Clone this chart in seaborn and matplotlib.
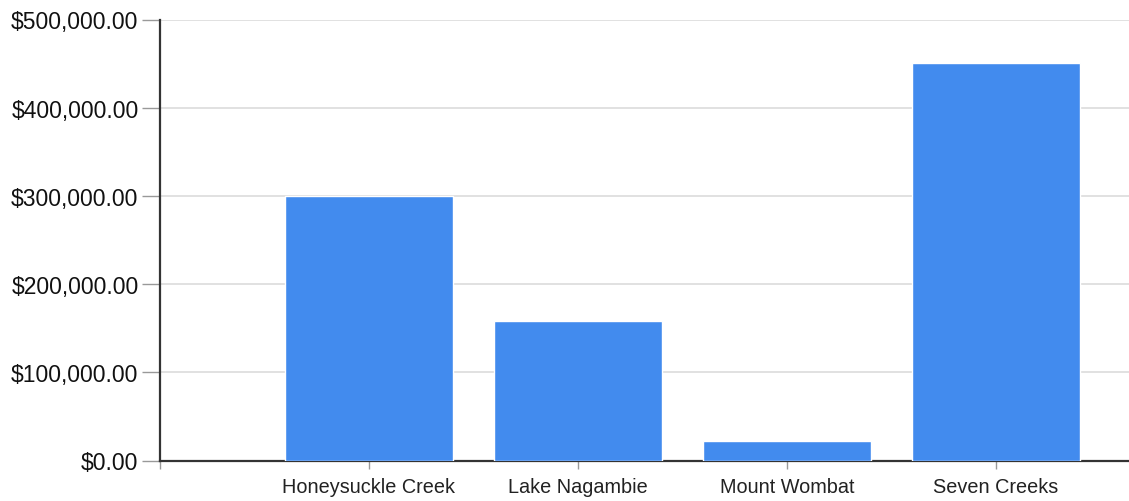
import matplotlib
matplotlib.use("Agg")
import matplotlib.pyplot as plt
import seaborn as sns
import pandas as pd
from matplotlib.ticker import FuncFormatter, MultipleLocator

sites = ["Honeysuckle Creek", "Lake Nagambie", "Mount Wombat", "Seven Creeks"]
amounts = [300000, 158000, 22300, 451000]

df = pd.DataFrame({"site": sites, "amount": amounts})

sns.set_theme(style="white")
plt.rcParams["font.family"] = ["Liberation Sans", "DejaVu Sans"]

W, H = 1129, 502
fig = plt.figure(figsize=(W / 100, H / 100), dpi=100)
ax = fig.add_axes([160 / W, (H - 461.5) / H, 1 - 160 / W, (461.5 - 20.5) / H])

sns.barplot(data=df, x="site", y="amount", color="#428bee", saturation=1,
            width=0.8, ax=ax, zorder=3)

ax.set_ylim(0, 500000)
ax.set_xlim(-1, -1 + (W - 160) / 209.0)
ax.yaxis.set_major_locator(MultipleLocator(100000))
ax.yaxis.set_major_formatter(FuncFormatter(lambda v, p: f"${v:,.2f}"))

ticks = [-1, 0, 1, 2, 3]
ax.set_xticks(ticks)
ax.set_xticklabels([""] + sites)

ax.grid(axis="y", color="#dcdcdc", linewidth=1.2, zorder=0)
ax.set_axisbelow(True)
ax.set_xlabel("")
ax.set_ylabel("")

for side in ("top", "right"):
    ax.spines[side].set_visible(False)
for side in ("left", "bottom"):
    ax.spines[side].set_color("#333333")
    ax.spines[side].set_linewidth(1.6)

ax.tick_params(axis="y", which="major", length=13, width=1, color="#999999",
               labelsize=16.5, labelcolor="#111111", pad=2.5, left=True)
ax.tick_params(axis="x", which="major", length=6, width=1, color="#999999",
               labelsize=14.3, labelcolor="#222222", pad=6, bottom=True)

fig.savefig("out.png", dpi=100)
